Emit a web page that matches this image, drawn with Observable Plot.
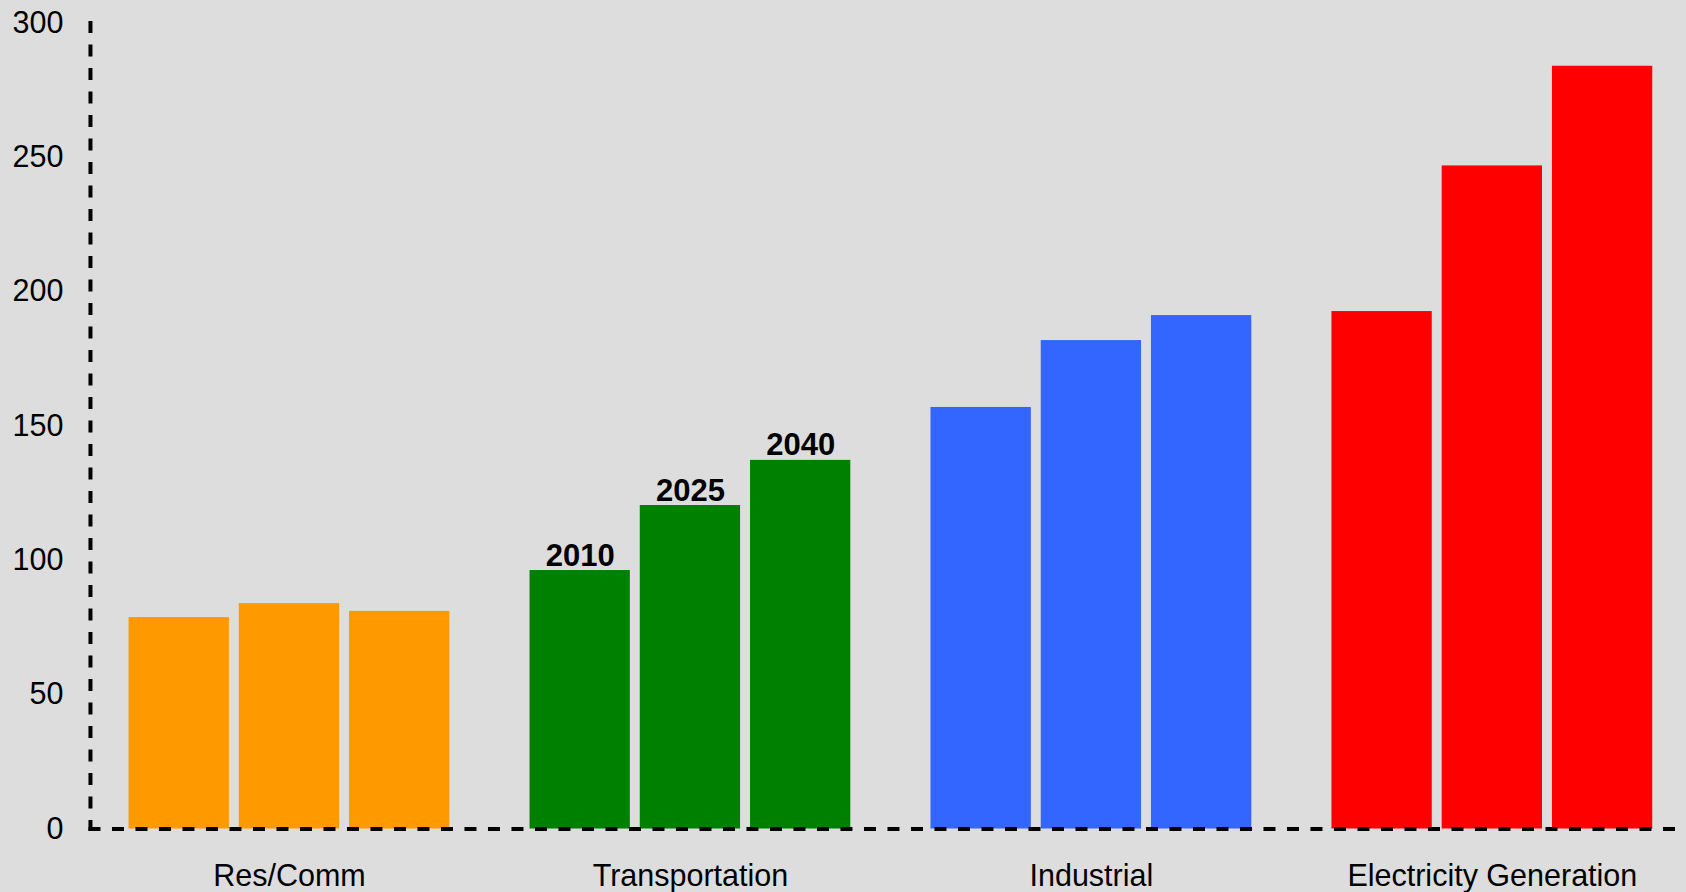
<!DOCTYPE html>
<html><head><meta charset="utf-8">
<script src="https://cdn.jsdelivr.net/npm/d3@7"></script>
<script src="https://cdn.jsdelivr.net/npm/@observablehq/plot@0.6"></script>
<style>
html,body{margin:0;padding:0;background:#dddddd;}
#chart svg{display:block;}
</style></head><body><div id="chart"></div>
<script>
const sectors = ["Res/Comm", "Transportation", "Industrial", "Electricity Generation"];
const years = ["2010", "2025", "2040"];
const resComm = [78.7, 83.9, 81.0];
const transportation = [96.2, 120.4, 137.2];
const industrial = [156.9, 181.8, 191.1];
const electricity = [192.6, 246.8, 283.9];
const sectorColors = ["#FF9900", "#008000", "#3366FF", "#FF0000"];
const yTicks = [0, 50, 100, 150, 200, 250, 300];
const labeledSector = "Transportation";

const series = [resComm, transportation, industrial, electricity];
const data = sectors.flatMap((s, i) => years.map((y, j) => ({sector: s, year: y, value: series[i][j]})));

const font = "'Liberation Sans', Arial, sans-serif";
const dash = {stroke: "#000", strokeWidth: 4, strokeDasharray: "8,15.5"};

const chart = Plot.plot({
  width: 1686,
  height: 892,
  marginTop: 22.5,
  marginBottom: 63.5,
  marginLeft: 90,
  marginRight: 13,
  style: {background: "#dddddd", fontFamily: font, fontSize: "30.5px", color: "#000"},
  fx: {domain: sectors, paddingInner: 0.2, paddingOuter: 0.074, align: 0.65, round: false, label: null, axis: null},
  x: {domain: years, paddingInner: 0.09, paddingOuter: 0, round: false, axis: null},
  y: {domain: [0, 300], axis: null},
  color: {domain: sectors, range: sectorColors},
  marks: [
    Plot.barY(data, {fx: "sector", x: "year", y: "value", fill: "sector"}),
    Plot.text(data.filter(d => d.sector === labeledSector), {
      fx: "sector", x: "year", y: "value", text: "year",
      lineAnchor: "bottom", dy: -5, fontWeight: "bold", fontSize: 31, fill: "#000"
    }),
    Plot.axisFx({anchor: "bottom", tickSize: 0, tickPadding: 35, label: null, fontSize: 30.5}),
    Plot.axisY({anchor: "left", ticks: yTicks, tickSize: 0, tickPadding: 65.6, label: null, fontSize: 30.5}),
    Plot.frame({anchor: "left", facet: "super", insetLeft: -38.6, ...dash}),
    Plot.frame({anchor: "bottom", facet: "super", insetLeft: -38.6, insetRight: -21, ...dash})
  ]
});
document.getElementById("chart").appendChild(chart);
</script></body></html>
